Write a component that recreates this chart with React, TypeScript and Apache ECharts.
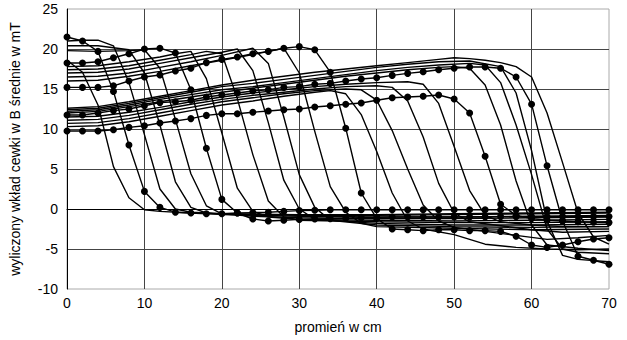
import React, { useEffect, useRef } from "react";
import * as echarts from "echarts";

// x positions (cm) of the marked curves
const radii = [0,2,4,6,8,10,12,14,16,18,20,22,24,26,28,30,32,34,36,38,40,42,44,46,48,50,52,54,56,58,60,62,64,66,68,70];

// marked curves (values at radii)
const markedA1 = [21.5,21.0,19.7,14.7,8.0,2.2,0.2,-0.4,-0.5,-0.6,-0.6,-0.5,-0.45,-0.4,-0.3,-0.2,-0.15,-0.1,-0.1,-0.1,-0.1,-0.1,-0.1,-0.1,-0.1,-0.1,-0.1,-0.1,-0.1,-0.1,-0.1,-0.1,-0.1,-0.1,-0.1,-0.1];
const markedA2 = [18.25,18.25,18.4,18.9,19.4,20.0,20.1,19.5,14.9,7.6,1.2,-0.5,-1.25,-1.5,-1.4,-1.3,-1.25,-1.2,-1.15,-1.1,-1.05,-1.0,-1.0,-1.0,-1.0,-1.0,-1.0,-1.0,-0.95,-0.95,-0.95,-0.95,-0.95,-0.95,-0.95,-0.95];
const markedA3 = [15.2,15.2,15.2,15.4,16.0,16.5,16.75,17.25,17.6,18.3,18.7,19.0,19.4,19.7,20.1,20.3,19.9,17.1,10.1,2.0,-1.2,-2.5,-2.6,-2.7,-2.6,-2.6,-2.7,-2.7,-2.8,-3.4,-4.5,-4.8,-4.5,-4.1,-3.75,-3.6];
const markedB1 = [11.75,11.75,12.0,12.3,12.5,12.9,13.3,13.4,13.6,14.0,14.25,14.5,14.75,14.9,15.2,15.3,15.6,15.7,16.0,16.25,16.4,16.7,16.95,17.15,17.4,17.6,17.75,17.75,17.6,16.5,13.1,5.4,-1.5,-5.9,-6.4,-6.9];
const markedB2 = [9.75,9.75,9.75,9.9,10.2,10.4,10.75,11.0,11.3,11.7,11.9,11.9,12.1,12.25,12.4,12.5,12.75,12.9,13.1,13.25,13.6,13.9,14.0,14.1,14.25,13.75,12.0,6.6,0.6,-0.8,-1.2,-1.4,-1.5,-1.6,-1.65,-1.7];

// unmarked curves as [x cm, value mT]
const curveU0 = [[0,18.6],[2,17.1],[4,13.0],[6,5.3],[8,1.4],[10,-0.1],[12,-0.3],[16,-0.5],[20,-0.6],[30,-0.7],[40,-0.7],[50,-0.6],[60,-0.5],[70,-0.4]];
const curveU1 = [[0,21.0],[2,21.1],[4,21.1],[6,20.4],[8,15.8],[10,9.3],[12,2.5],[14,0.0],[16,-0.4],[20,-0.6],[30,-0.8],[40,-0.8],[50,-0.7],[60,-0.6],[70,-0.5]];
const curveU2 = [[0,20.4],[4,20.4],[8,19.9],[10,17.0],[12,10.5],[14,3.4],[16,0.2],[18,-0.5],[20,-0.7],[30,-0.9],[40,-1.0],[50,-1.0],[60,-0.9],[70,-0.8]];
const curveU3 = [[0,19.8],[4,19.7],[8,19.8],[10,19.9],[12,17.6],[14,11.2],[16,4.4],[18,0.4],[20,-0.6],[24,-0.9],[30,-1.1],[40,-1.2],[50,-1.2],[60,-1.1],[70,-1.0]];
const curveU4 = [[0,17.8],[4,17.9],[8,18.4],[12,19.0],[14,19.4],[16,19.7],[18,16.3],[20,9.5],[22,2.6],[24,-0.3],[26,-1.0],[30,-1.3],[40,-1.4],[50,-1.5],[60,-1.4],[70,-1.3]];
const curveU5 = [[0,17.4],[4,17.5],[8,17.9],[12,18.6],[16,19.3],[18,19.7],[20,19.4],[22,13.8],[24,6.8],[26,1.0],[28,-1.0],[30,-1.4],[40,-1.6],[50,-1.7],[60,-1.7],[70,-1.6]];
const curveU6 = [[0,17.0],[4,17.1],[8,17.5],[12,18.2],[16,18.9],[20,19.6],[22,20.0],[24,17.3],[26,10.8],[28,3.6],[30,0.0],[32,-1.3],[40,-1.8],[50,-2.0],[60,-2.0],[70,-1.9]];
const curveU7 = [[0,16.5],[4,16.6],[8,17.0],[12,17.7],[16,18.4],[20,19.2],[24,20.1],[26,18.2],[28,11.5],[30,4.3],[32,0.2],[34,-1.4],[40,-2.0],[50,-2.2],[60,-2.3],[70,-2.2]];
const curveU8 = [[0,16.0],[4,16.1],[8,16.6],[12,17.2],[16,17.9],[20,18.6],[24,19.3],[28,20.1],[30,17.0],[32,9.7],[34,2.8],[36,-0.4],[38,-1.8],[40,-2.2],[50,-2.4],[60,-2.6],[70,-2.5]];
const curveL1 = [[0,10.3],[4,10.4],[8,10.9],[12,11.6],[16,12.3],[20,13.0],[24,13.5],[28,14.1],[32,14.6],[34,14.8],[36,14.4],[38,11.8],[40,7.2],[42,2.0],[44,-1.5],[46,-2.5],[50,-3.2],[54,-4.4],[58,-4.8],[62,-5.0],[66,-5.1],[70,-5.0]];
const curveL2 = [[0,10.7],[4,10.8],[8,11.3],[12,12.0],[16,12.7],[20,13.4],[24,13.9],[28,14.4],[32,14.8],[36,15.0],[38,14.9],[40,13.6],[42,9.8],[44,5.0],[46,0.5],[48,-1.5],[50,-2.3],[54,-2.8],[58,-3.3],[62,-3.8],[66,-3.6],[70,-3.3]];
const curveL3 = [[0,11.1],[4,11.2],[8,11.7],[12,12.4],[16,13.1],[20,13.7],[24,14.2],[28,14.6],[32,15.0],[36,15.3],[40,15.4],[42,15.2],[44,13.5],[46,9.0],[48,3.2],[50,-0.5],[52,-1.6],[56,-2.1],[60,-2.6],[64,-2.9],[70,-2.8]];
const curveL4 = [[0,11.5],[4,11.6],[8,12.1],[12,12.7],[16,13.4],[20,14.0],[24,14.5],[28,14.9],[32,15.3],[36,15.6],[40,15.8],[44,15.9],[46,15.6],[48,13.2],[50,7.8],[52,2.3],[54,-0.8],[56,-1.6],[60,-2.0],[64,-2.2],[70,-2.2]];
const curveH1 = [[0,12.0],[4,12.2],[8,12.8],[12,13.4],[16,14.0],[20,14.6],[24,15.1],[28,15.6],[32,16.1],[36,16.6],[40,17.0],[44,17.4],[48,17.7],[50,17.8],[52,17.6],[54,15.5],[56,10.5],[58,3.5],[60,-2.0],[62,-4.5],[66,-4.9],[70,-5.2]];
const curveH2 = [[0,12.2],[4,12.4],[8,13.0],[12,13.7],[16,14.3],[20,14.9],[24,15.3],[28,15.8],[32,16.3],[36,16.8],[40,17.3],[44,17.7],[48,18.0],[52,18.2],[54,18.0],[56,15.8],[58,10.5],[60,4.3],[62,-2.5],[64,-5.0],[66,-5.4],[70,-5.6]];
const curveH3 = [[0,12.4],[4,12.6],[8,13.2],[12,13.9],[16,14.6],[20,15.3],[24,15.7],[28,16.2],[32,16.7],[36,17.2],[40,17.7],[44,18.1],[48,18.4],[52,18.5],[56,17.8],[58,14.5],[60,7.3],[62,-1.5],[64,-5.8],[66,-6.3],[70,-6.6]];
const curveH4 = [[0,12.6],[4,12.8],[8,13.4],[12,14.1],[16,14.8],[20,15.5],[24,16.1],[28,16.6],[32,17.1],[36,17.5],[40,17.9],[44,18.3],[48,18.7],[50,18.9],[52,18.8],[54,18.6],[56,18.3],[58,17.8],[60,16.5],[62,12.0],[64,5.8],[66,-0.5],[68,-3.5],[70,-4.4]];

const xTicks = { min: 0, max: 70, interval: 10 };
const yTicks = { min: -10, max: 25, interval: 5 };

const markedCurves = [markedA1, markedA2, markedA3, markedB1, markedB2];
const plainCurves = [curveU0, curveU1, curveU2, curveU3, curveU4, curveU5, curveU6, curveU7, curveU8, curveL1, curveL2, curveL3, curveL4, curveH1, curveH2, curveH3, curveH4];

const FONT = "'Liberation Sans', Arial, sans-serif";

export default function App() {
  const ref = useRef<HTMLDivElement>(null);
  useEffect(() => {
    if (!ref.current) return;
    const chart = echarts.init(ref.current, undefined, { renderer: "svg" });
    const series: any[] = [];
    plainCurves.forEach((c, i) => {
      series.push({
        type: "line",
        name: "u" + i,
        data: c,
        symbol: "none",
        lineStyle: { color: "#000", width: 1.4 },
        z: 2,
      });
    });
    markedCurves.forEach((vals, i) => {
      series.push({
        type: "line",
        name: "m" + i,
        data: radii.map((x, j) => [x, vals[j]]),
        symbol: "circle",
        symbolSize: 7,
        showSymbol: true,
        itemStyle: { color: "#000" },
        lineStyle: { color: "#000", width: 1.4 },
        z: 3,
      });
    });
    chart.setOption({
      animation: false,
      grid: {
        left: 67,
        right: 18,
        top: 9,
        bottom: 51,
        show: true,
        borderColor: "#aaa",
        borderWidth: 1,
      },
      xAxis: {
        type: "value",
        ...xTicks,
        name: "promień w cm",
        nameLocation: "middle",
        nameGap: 31,
        nameTextStyle: { fontFamily: FONT, fontSize: 14, color: "#000" },
        axisLine: { lineStyle: { color: "#000", width: 1 } },
        axisTick: { show: false },
        axisLabel: { fontFamily: FONT, fontSize: 14, color: "#000", margin: 7 },
        splitLine: { show: true, showMinLine: false, showMaxLine: false, lineStyle: { color: "#444", width: 1 } },
      },
      yAxis: {
        type: "value",
        ...yTicks,
        name: "wyliczony wkład cewki w B średnie w mT",
        nameLocation: "middle",
        nameGap: 45,
        nameTextStyle: { fontFamily: FONT, fontSize: 14, color: "#000" },
        axisLine: { show: true, lineStyle: { color: "#000", width: 1 } },
        axisTick: { show: false },
        axisLabel: { fontFamily: FONT, fontSize: 14, color: "#000", margin: 9 },
        splitLine: { show: true, showMinLine: false, showMaxLine: false, lineStyle: { color: "#444", width: 1 } },
      },
      series,
    });
    return () => chart.dispose();
  }, []);
  return <div ref={ref} style={{ position: "absolute", left: 0, top: 0, width: 627, height: 340 }} />;
}
